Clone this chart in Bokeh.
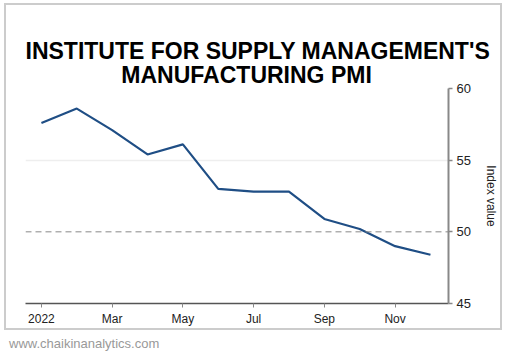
from bokeh.plotting import figure
from bokeh.models import Range1d, FixedTicker, Span, Div
from bokeh.layouts import column
from bokeh.embed import file_html
from bokeh.resources import INLINE

# ---- data ----
months = ["Jan", "Feb", "Mar", "Apr", "May", "Jun", "Jul", "Aug", "Sep", "Oct", "Nov", "Dec"]
pmi = [57.6, 58.6, 57.1, 55.4, 56.1, 53.0, 52.8, 52.8, 50.9, 50.2, 49.0, 48.4]
x_tick_idx = [0, 2, 4, 6, 8, 10]
x_tick_labels = ["2022", "Mar", "May", "Jul", "Sep", "Nov"]
y_ticks = [45, 50, 55, 60]
threshold = 50
title_lines = ["INSTITUTE FOR SUPPLY MANAGEMENT'S", "MANUFACTURING PMI"]
y_label = "Index value"
footer = "www.chaikinanalytics.com"

x = list(range(len(months)))

W, H = 498, 327
MB_LEFT, MB_RIGHT, MB_TOP, MB_BOTTOM = 19, 56, 83, 29

# second title line indented with non-breaking spaces so it sits centred under the first
title_text = title_lines[0] + "\n" + "\u00a0" * 15 + title_lines[1]

p = figure(width=W, height=H, output_backend="svg", toolbar_location=None,
           x_range=Range1d(-0.45, 11.51), y_range=Range1d(45, 60),
           y_axis_location="right", title=title_text,
           min_border_left=MB_LEFT, min_border_right=MB_RIGHT,
           min_border_top=MB_TOP, min_border_bottom=MB_BOTTOM,
           styles={"border": "2px solid #cccccc", "margin-left": "4px", "margin-top": "3px"})

p.title.align = "left"
p.title.offset = 0
p.title.standoff = 0
p.title.text_font = "Liberation Sans"
p.title.text_font_style = "bold"
p.title.text_font_size = "23px"
p.title.text_color = "#000000"
p.title.text_line_height = 0.95

p.outline_line_color = None
p.background_fill_color = "white"
p.border_fill_color = "white"

# grid
p.xgrid.visible = False
p.ygrid.ticker = FixedTicker(ticks=[55, 60])
p.ygrid.grid_line_color = "#eeeeee"
p.ygrid.grid_line_width = 1.5

p.add_layout(Span(location=threshold, dimension="width", line_color="#888888",
                  line_dash="6 4", line_width=1))

p.line(x, pmi, line_color="#1f4e85", line_width=2.2)

# x axis
xa = p.xaxis[0]
xa.ticker = FixedTicker(ticks=x_tick_idx)
xa.major_label_overrides = {i: lab for i, lab in zip(x_tick_idx, x_tick_labels)}
xa.axis_line_color = "#555555"
xa.axis_line_width = 1.5
xa.major_tick_line_color = "#888888"
xa.major_tick_in = 0
xa.major_tick_out = 4
xa.minor_tick_line_color = None
xa.major_label_text_font = "Liberation Sans"
xa.major_label_text_font_size = "12px"
xa.major_label_text_color = "#222222"
xa.major_label_standoff = 4

# y axis (right)
ya = p.yaxis[0]
ya.ticker = FixedTicker(ticks=y_ticks)
ya.axis_line_color = "#888888"
ya.axis_line_width = 2
ya.major_tick_line_color = "#888888"
ya.major_tick_line_width = 1.5
ya.major_tick_in = 0
ya.major_tick_out = 4
ya.minor_tick_line_color = None
ya.major_label_text_font = "Liberation Sans"
ya.major_label_text_font_size = "13px"
ya.major_label_text_color = "#222222"
ya.major_label_standoff = 4
ya.axis_label = y_label
ya.axis_label_text_font = "Liberation Sans"
ya.axis_label_text_font_size = "12px"
ya.axis_label_text_font_style = "normal"
ya.axis_label_text_color = "#222222"
ya.axis_label_standoff = 10

foot = Div(text=footer, width=300, height=18,
           styles={"color": "#999999", "font-family": "Liberation Sans, Arial, sans-serif",
                   "font-size": "13px", "padding-left": "4px"})

layout = column(p, foot, spacing=0)

open("out.html", "w").write(file_html(layout, INLINE))
